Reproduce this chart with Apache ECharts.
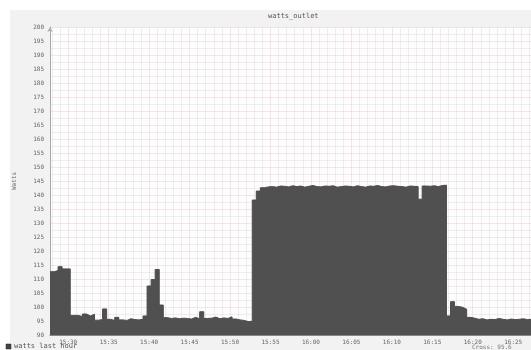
<!DOCTYPE html>
<html>
<head>
<meta charset="utf-8">
<script src="https://cdn.jsdelivr.net/npm/echarts@6/dist/echarts.min.js"></script>
<style>
html,body{margin:0;padding:0;background:#ffffff;}
#c{width:531px;height:350px;}
</style>
</head>
<body>
<div id="c"></div>
<script>
// Sample times: minutes after 15:00, one sample every 30 s starting 15:27:45
const sampleStartMin = 27.75;
const sampleStepMin = 0.5;
// watts per 30 s sample
const watts = [
  112.6, 113.0, 114.4, 113.6, 113.6,
  97.0,
  97.0, 96.6, 97.5, 96.8, 97.4,
  95.3, 95.5, 99.3, 95.6, 95.2, 96.3, 95.4, 95.2, 95.8, 95.5, 95.4, 95.6,
  96.8, 107.5, 109.8, 113.4, 100.7,
  96.2, 95.9, 96.1, 95.8, 96.0, 95.9, 95.7, 96.3, 95.8, 98.3,
  95.9, 96.0, 96.4, 95.8, 96.1, 95.9, 96.5, 95.7, 95.4, 95.2,
  94.8, 94.9,
  138.2, 141.4, 142.6, 142.9, 143.0, 142.8, 143.2, 143.1, 142.9, 143.3,
  143.0, 143.2, 142.8, 143.1, 143.4, 143.0, 142.9, 143.2, 143.1, 143.3,
  142.8, 143.0, 143.2, 143.1, 142.9, 143.3, 143.0, 142.8, 143.2, 143.1,
  143.4, 143.0, 142.9, 143.2, 143.3, 143.1, 143.0, 142.8, 143.2, 143.1,
  143.0, 138.5, 143.2, 143.1, 143.3, 143.0, 143.4, 143.5,
  96.8, 101.9, 100.2, 99.9, 99.2,
  96.3, 96.0, 95.6, 95.8, 95.4, 95.6, 95.5, 95.9, 95.6, 95.4, 95.7, 95.5, 95.6, 95.8, 95.5, 95.6, 95.7
];
// x tick labels (minutes after 15:00)
const xTickMinutes = [30, 35, 40, 45, 50, 55, 60, 65, 70, 75, 80, 85];
const xMinorMinutes = [28,29,31,32,33,34,36,37,38,39,41,42,43,44,46,47,48,49,51,52,53,54,56,57,58,59,61,62,63,64,66,67,68,69,71,72,73,74,76,77,78,79,81,82,83,84,86,87];
const yMin = 90, yMax = 200, yStep = 5;
const xMin = 27.75, xMax = 87.2;

const seriesData = watts.map((v, i) => [sampleStartMin + i * sampleStepMin, v]);
seriesData.push([sampleStartMin + watts.length * sampleStepMin, watts[watts.length - 1]]);

function fmtMin(m) {
  const h = 15 + Math.floor(m / 60);
  const mm = Math.round(m % 60);
  return h + ':' + (mm < 10 ? '0' + mm : mm);
}

const mono = '"DejaVu Sans Mono", monospace';
const chart = echarts.init(document.getElementById('c'), null, {renderer: 'canvas'});
chart.setOption({
  animation: false,
  backgroundColor: '#ffffff',
  graphic: [
    {type: 'rect', z: -10, silent: true, shape: {x: 10, y: 10, width: 521, height: 340}, style: {fill: '#f2f2f2'}},
    {type: 'rect', z: -9, silent: true, shape: {x: 50, y: 27, width: 481, height: 308}, style: {fill: '#fdfdfd'}},
    {type: 'text', left: 268, top: 13, style: {text: 'watts_outlet', font: '7px ' + mono, fill: '#555', textAlign: 'center'}},
    {type: 'rect', silent: true, shape: {x: 6, y: 344, width: 5, height: 5}, style: {fill: '#444', stroke: '#222', lineWidth: 0.5}},
    {type: 'text', left: 14, top: 343, style: {text: 'watts last hour', font: '7px ' + mono, fill: '#555'}},
    {type: 'text', left: 472, top: 344, style: {text: 'Cross: 95.6', font: '6px ' + mono, fill: '#777'}}
  ],
  grid: {left: 50, top: 27, right: 0, bottom: 15, containLabel: false},
  xAxis: [
    {
      type: 'value', min: xMin, max: xMax,
      axisLine: {show: true, lineStyle: {color: '#888', width: 1}},
      axisTick: {show: false, customValues: xTickMinutes},
      axisLabel: {customValues: xTickMinutes, formatter: fmtMin, color: '#666', fontFamily: mono, fontSize: 6, margin: 4},
      splitLine: {show: true, lineStyle: {color: 'rgba(225,185,185,0.35)', width: 1}}
    },
    {
      type: 'value', min: xMin, max: xMax, position: 'bottom',
      axisLine: {show: false},
      axisTick: {show: false, customValues: xMinorMinutes},
      axisLabel: {show: false, customValues: xMinorMinutes},
      splitLine: {show: true, lineStyle: {color: 'rgba(215,205,205,0.35)', width: 1}}
    }
  ],
  yAxis: {
    type: 'value', min: yMin, max: yMax, interval: yStep,
    name: 'Watts', nameLocation: 'middle', nameGap: 33, nameRotate: 90,
    nameTextStyle: {color: '#666', fontFamily: mono, fontSize: 6},
    axisLine: {show: true, lineStyle: {color: '#aaa', width: 1}, symbol: ['none', 'arrow'], symbolSize: [4, 5]},
    axisTick: {show: false},
    axisLabel: {color: '#666', fontFamily: mono, fontSize: 6, margin: 6},
    splitLine: {show: true, lineStyle: {color: 'rgba(225,185,185,0.35)', width: 1}},
    minorTick: {show: false, splitNumber: 2},
    minorSplitLine: {show: true, lineStyle: {color: 'rgba(215,205,205,0.35)', width: 1}}
  },
  series: [{
    type: 'line',
    xAxisIndex: 0,
    step: 'end',
    data: seriesData,
    symbol: 'none',
    clip: true,
    lineStyle: {color: '#4c4c4c', width: 1},
    areaStyle: {color: '#505050', opacity: 1, origin: 'start'}
  }]
});
</script>
</body>
</html>
